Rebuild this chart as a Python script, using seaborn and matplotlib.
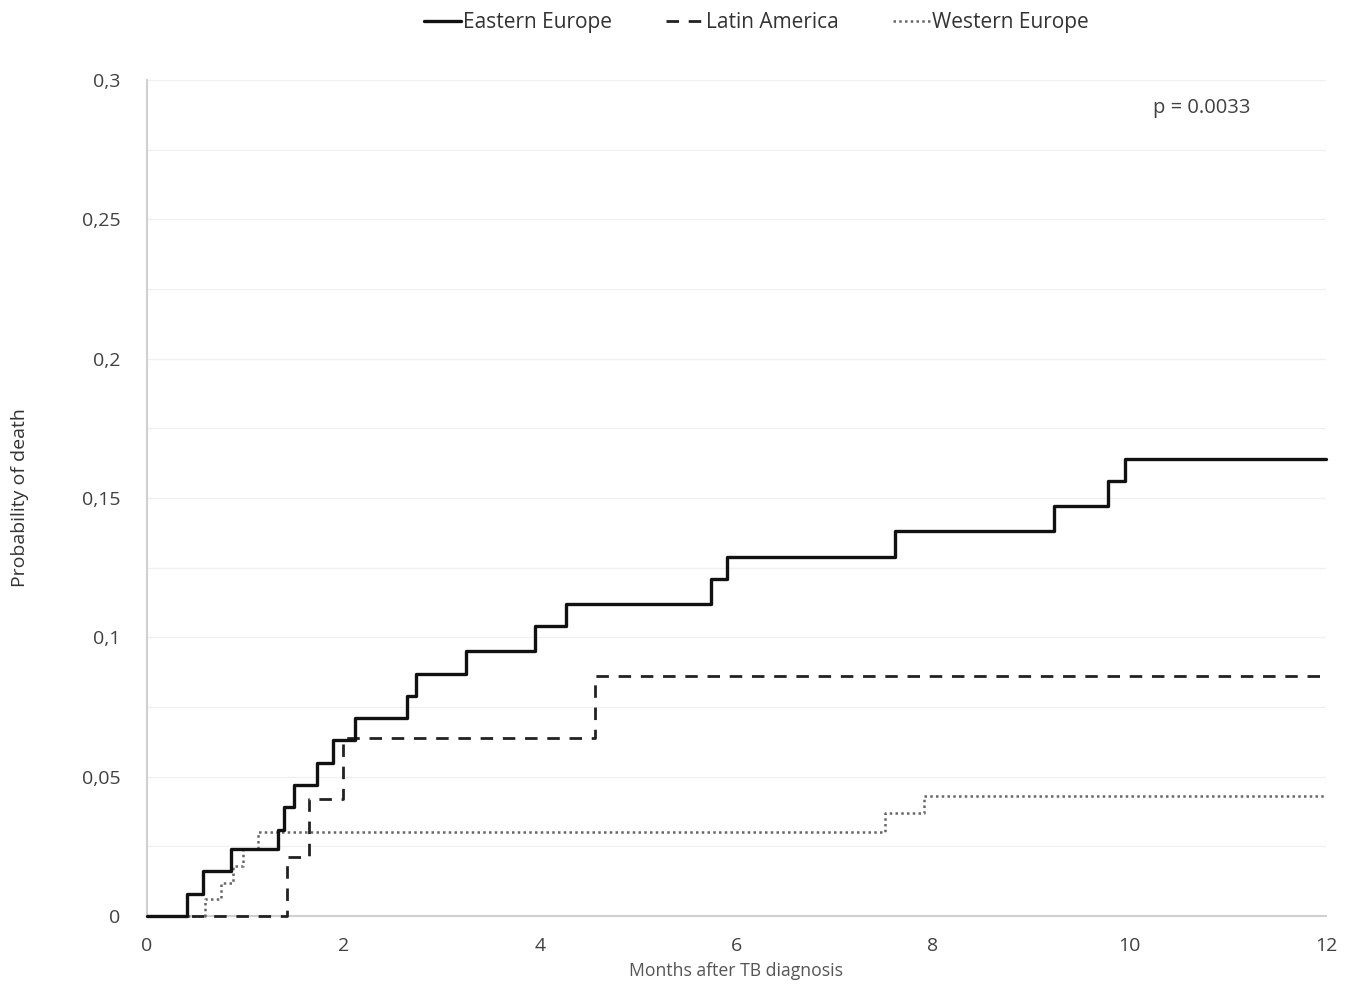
import numpy as np
import pandas as pd
import matplotlib
matplotlib.use('Agg')
import matplotlib.pyplot as plt
import seaborn as sns

sns.set_style('white')
plt.rcParams['font.family'] = ['Open Sans', 'DejaVu Sans']

# step data (months, cumulative probability)
groups = ['Eastern Europe', 'Latin America', 'Western Europe']
east_t = [0.41, 0.57, 0.855, 1.33, 1.40, 1.50, 1.73, 1.89, 2.12, 2.65, 2.74, 3.25,
          3.95, 4.27, 5.74, 5.90, 7.61, 9.23, 9.78, 9.95]
east_p = [0.008, 0.016, 0.024, 0.031, 0.039, 0.047, 0.055, 0.063, 0.071, 0.079, 0.087,
          0.095, 0.104, 0.112, 0.121, 0.129, 0.138, 0.147, 0.156, 0.164]
latin_t = [1.425, 1.65, 1.995, 4.56]
latin_p = [0.021, 0.042, 0.064, 0.086]
west_t = [0.59, 0.75, 0.88, 0.98, 1.13, 7.51, 7.91]
west_p = [0.006, 0.012, 0.018, 0.024, 0.030, 0.037, 0.043]
t_max = 12

y_ticks = [0, 0.05, 0.1, 0.15, 0.2, 0.25, 0.3]
y_tick_labels = ['0', '0,05', '0,1', '0,15', '0,2', '0,25', '0,3']
x_ticks = [0, 2, 4, 6, 8, 10, 12]

def curve(name, t, p):
    return pd.DataFrame({'group': name, 'month': [0] + t + [t_max],
                         'prob': [0] + p + [p[-1]]})

df = pd.concat([curve(groups[0], east_t, east_p),
                curve(groups[1], latin_t, latin_p),
                curve(groups[2], west_t, west_p)], ignore_index=True)

styles = {
    'Eastern Europe': dict(color='#111111', lw=2.4, ls='-', z=5),
    'Latin America': dict(color='#222222', lw=2.0, ls=(0, (4.5, 3.5)), z=4),
    'Western Europe': dict(color='#666666', lw=1.8, ls=(0, (1, 1.3)), z=3),
}

fig = plt.figure(figsize=(13.58, 9.84), dpi=100)
ax = fig.add_axes([0.1082, 0.0691, 0.8682, 0.8496])

for g in groups:
    st = styles[g]
    sns.lineplot(data=df[df['group'] == g], x='month', y='prob', ax=ax,
                 estimator=None, drawstyle='steps-post', color=st['color'],
                 linewidth=st['lw'], linestyle=st['ls'], label=g, legend=False,
                 zorder=st['z'], clip_on=False)

ax.set_xlim(0, 12)
ax.set_ylim(0, 0.3)
ax.set_xticks(x_ticks)
ax.set_yticks(y_ticks)
ax.set_yticklabels(y_tick_labels)
ax.set_yticks(np.arange(0.025, 0.3, 0.05), minor=True)
ax.grid(axis='y', which='both', color='#f0f0f0', lw=1.0)
ax.set_axisbelow(True)
for s in ['top', 'right']:
    ax.spines[s].set_visible(False)
for s in ['left', 'bottom']:
    ax.spines[s].set_color('#d0d0d0')
    ax.spines[s].set_linewidth(1.5)
    ax.spines[s].set_zorder(1)
ax.tick_params(axis='both', which='major', labelsize=14, colors='#d0d0d0',
               labelcolor='#404040', length=5, width=1.2)
ax.tick_params(axis='y', which='minor', length=0)
ax.tick_params(axis='x', pad=10)
ax.tick_params(axis='y', pad=14)

ax.set_xlabel('Months after TB diagnosis', fontsize=12.7, color='#555555', labelpad=5)
ax.set_ylabel('Probability of death', fontsize=14, color='#333333', labelpad=38)

ax.text(10.24, 0.290, 'p = 0.0033', fontsize=14.5, color='#404040', ha='left', va='center')

handles, labels = ax.get_legend_handles_labels()
fig.legend(handles, labels, loc='center', bbox_to_anchor=(0.557, 0.977), ncol=3,
           frameon=False, fontsize=15, handlelength=1.8, handletextpad=0.1,
           columnspacing=2.6, labelcolor='#333333')

fig.savefig('out.png', dpi=100, facecolor='white')
